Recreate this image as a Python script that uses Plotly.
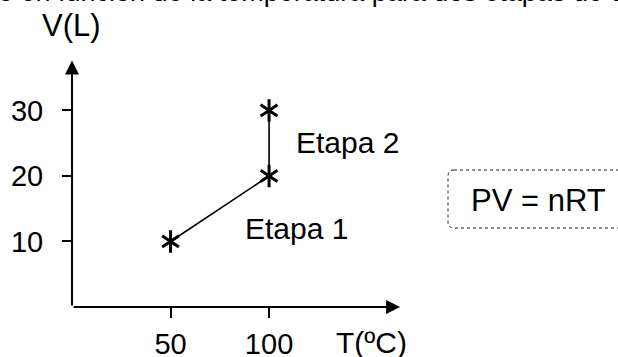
import plotly.graph_objects as go

# Data
temps = [50, 100, 100]
volumes = [10, 20, 30]
x_ticks = [50, 100]
y_ticks = [10, 20, 30]
x_label = "T(ºC)"
y_label = "V(L)"
stage_labels = ["Etapa 1", "Etapa 2"]
equation = "PV = nRT"
title_text = "o en función de la temperatura para dos etapas de un gas"

FONT = "Liberation Sans, Arial, sans-serif"
L, W, T, H = 72, 335, 58, 249

fig = go.Figure()
fig.add_trace(go.Scatter(x=temps, y=volumes, mode="lines",
                         line=dict(color="black", width=1.6),
                         hoverinfo="skip", showlegend=False))
for sym in ["y-up", "y-down"]:
    fig.add_trace(go.Scatter(x=temps, y=volumes, mode="markers",
                             marker=dict(symbol=sym, size=14, color="black",
                                         line=dict(color="black", width=3)),
                             hoverinfo="skip", showlegend=False, cliponaxis=False))

def px_x(p):
    return (p - L) / W

def px_y(p):
    return 1 - (p - T) / H

# rounded box
x0, x1 = px_x(448), px_x(640)
y0, y1 = px_y(228), px_y(170)
rx, ry = 6 / W, 6 / H
path = (f"M {x0+rx},{y1} L {x1},{y1} L {x1},{y0} L {x0+rx},{y0} "
        f"Q {x0},{y0} {x0},{y0+ry} L {x0},{y1-ry} Q {x0},{y1} {x0+rx},{y1} Z")
fig.add_shape(type="path", path=path, xref="paper", yref="paper",
              line=dict(color="#222", width=1, dash="dot"), fillcolor="white")

annotations = [
    # axis arrows
    dict(x=166.5, y=0, ax=0, ay=0, xref="x", yref="y", axref="x", ayref="y",
         text="", showarrow=True, arrowhead=2, arrowsize=1.4, arrowwidth=2,
         arrowcolor="black", standoff=0, startstandoff=0),
    dict(x=0, y=37.6, ax=0, ay=0, xref="x", yref="y", axref="x", ayref="y",
         text="", showarrow=True, arrowhead=2, arrowsize=1.4, arrowwidth=2,
         arrowcolor="black", standoff=0, startstandoff=0),
    dict(x=px_x(71.5), y=px_y(26), xref="paper", yref="paper", text=y_label,
         showarrow=False, xanchor="center", yanchor="middle",
         font=dict(size=31, color="black", family=FONT)),
    dict(x=px_x(371.5), y=px_y(342), xref="paper", yref="paper", text=x_label,
         showarrow=False, xanchor="center", yanchor="middle",
         font=dict(size=30, color="black", family=FONT)),
    dict(x=px_x(243), y=px_y(228), xref="paper", yref="paper", text=stage_labels[0],
         showarrow=False, xanchor="left", yanchor="middle",
         font=dict(size=30, color="black", family=FONT)),
    dict(x=px_x(294), y=px_y(142), xref="paper", yref="paper", text=stage_labels[1],
         showarrow=False, xanchor="left", yanchor="middle",
         font=dict(size=30, color="black", family=FONT)),
    dict(x=px_x(538), y=px_y(200), xref="paper", yref="paper", text=equation,
         showarrow=False, xanchor="center", yanchor="middle",
         font=dict(size=31, color="black", family=FONT)),
    dict(x=px_x(-4), y=px_y(9.5), xref="paper", yref="paper", text=title_text,
         showarrow=False, xanchor="left", yanchor="bottom",
         font=dict(size=27, color="black", family=FONT)),
]

fig.update_layout(
    width=618, height=357,
    margin=dict(l=L, r=618 - L - W, t=T, b=357 - T - H, pad=0, autoexpand=False),
    paper_bgcolor="white", plot_bgcolor="white",
    showlegend=False,
    annotations=annotations,
    xaxis=dict(range=[0, 170], tickvals=x_ticks, ticks="outside", ticklen=10,
               tickwidth=2, tickcolor="black", showgrid=False, zeroline=False,
               showline=False, automargin=False, ticklabelstandoff=1,
               tickfont=dict(size=29, color="black", family=FONT),
               fixedrange=True),
    yaxis=dict(range=[0, 38], tickvals=y_ticks, ticks="outside", ticklen=9,
               tickwidth=2, tickcolor="black", showgrid=False, zeroline=False,
               showline=False, automargin=False, ticklabelstandoff=13,
               tickfont=dict(size=29, color="black", family=FONT),
               fixedrange=True),
)

fig.write_html(
    "out.html",
    config={"displayModeBar": False},
    post_script="document.body.style.margin='0';document.body.style.overflow='hidden';",
)
